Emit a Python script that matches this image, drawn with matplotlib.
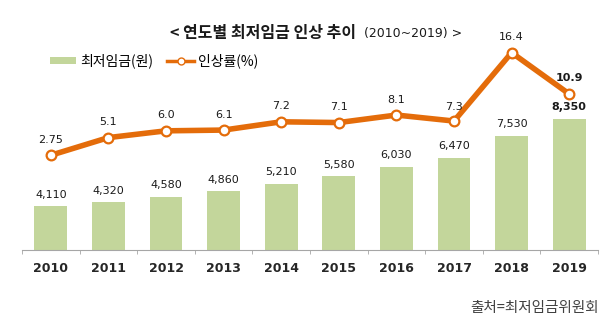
import numpy as np
import matplotlib
matplotlib.use('Agg')
import matplotlib.pyplot as plt
from matplotlib.patches import Patch
from matplotlib.lines import Line2D

# data
years = ['2010', '2011', '2012', '2013', '2014', '2015', '2016', '2017', '2018', '2019']
wage = [4110, 4320, 4580, 4860, 5210, 5580, 6030, 6470, 7530, 8350]
rate = [2.75, 5.1, 6.0, 6.1, 7.2, 7.1, 8.1, 7.3, 16.4, 10.9]
rate_labels = ['2.75', '5.1', '6.0', '6.1', '7.2', '7.1', '8.1', '7.3', '16.4', '10.9']

kr = ['Noto Sans CJK KR', 'DejaVu Sans']
green = '#c3d69b'
orange = '#e46c0a'

fig = plt.figure(figsize=(6.15, 3.34), dpi=100)
ax = fig.add_axes([22/615, 84/334, 576/615, 220/334])
x = np.arange(len(years))

ax.bar(x, wage, width=0.57, color=green, zorder=2)
ax.set_ylim(2000, 12640)
ax.set_xlim(-0.5, 9.5)
for s in ['top', 'left', 'right']:
    ax.spines[s].set_visible(False)
ax.spines['bottom'].set_color('#a6a6a6')
ax.set_yticks([])
ax.set_xticks(x)
ax.set_xticklabels(years, fontsize=9, fontweight='bold', color='#262626', family='DejaVu Sans')
ax.tick_params(axis='x', which='major', length=0, pad=9)
ax.set_xticks(np.arange(-0.5, 10, 1), minor=True)
ax.tick_params(axis='x', which='minor', length=3, color='#a6a6a6', direction='out')

for i, v in enumerate(wage):
    w = 'bold' if i == 9 else 'normal'
    ax.text(i, v + 300, '{:,}'.format(v), ha='center', va='bottom', fontsize=8,
            fontweight=w, color='#1a1a1a', family='DejaVu Sans')

ax2 = ax.twinx()
ax2.set_ylim(-9.85, 19.41)
ax2.axis('off')
ax2.plot(x, rate, color=orange, lw=4, marker='o', markersize=7,
         markerfacecolor='white', markeredgecolor=orange, markeredgewidth=1.6, zorder=3)
for i, v in enumerate(rate):
    w = 'bold' if i == 9 else 'normal'
    off = 1.4 if i != 7 else 1.2
    ax2.text(i, v + off, rate_labels[i], ha='center', va='bottom', fontsize=8,
             fontweight=w, color='#1a1a1a', family='DejaVu Sans')

# title
fig.text(356/615, 1 - 33/334, '< 연도별 최저임금 인상 추이', ha='right', va='center',
         fontsize=11.5, fontweight='bold', family=kr, color='#1a1a1a')
fig.text(356/615, 1 - 33/334, '  (2010~2019) >', ha='left', va='center',
         fontsize=9, family='DejaVu Sans', color='#1a1a1a')

# legend
handles = [Patch(facecolor=green, edgecolor='none'),
           Line2D([0], [0], color=orange, lw=2.5, marker='o', markersize=5,
                  markerfacecolor='white', markeredgecolor=orange)]
leg = fig.legend(handles, ['최저임금(원)', '인상률(%)'], loc='center left',
                 bbox_to_anchor=(50/615, 1 - 61/334), ncol=2, frameon=False,
                 prop={'family': kr, 'size': 10}, handlelength=1.9, handleheight=0.5,
                 columnspacing=1.0, handletextpad=0.3, borderaxespad=0, borderpad=0)

fig.text(599/615, 1 - 308/334, '출처=최저임금위원회', ha='right', va='center',
         fontsize=10.5, family=kr, color='#404040')

fig.savefig('out.png', dpi=100, facecolor='white')
